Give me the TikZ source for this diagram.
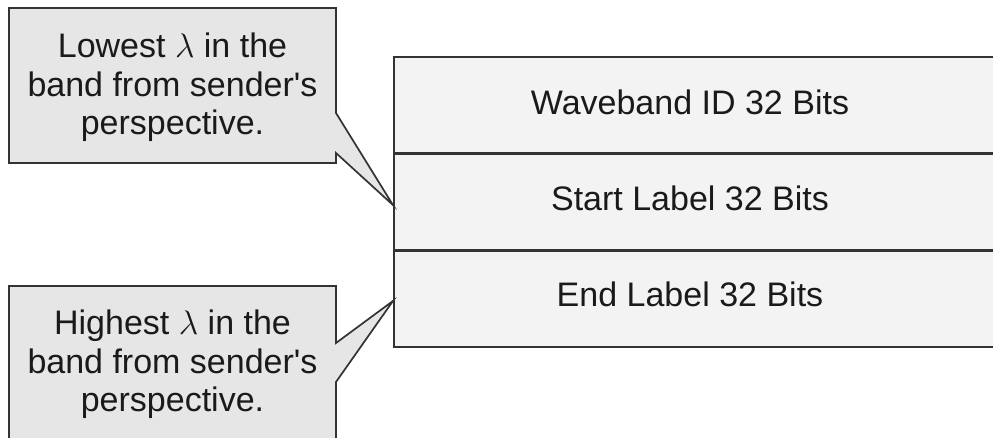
\RequirePackage{fix-cm}
\documentclass[tikz,border=0pt]{standalone}
\usepackage{fontspec}
\setmainfont{Liberation Sans}
\definecolor{calloutgray}{HTML}{E6E6E6}
\definecolor{tablegray}{HTML}{F3F3F3}
\definecolor{linegray}{HTML}{333333}
\definecolor{textgray}{HTML}{1A1A1A}
\begin{document}
\begin{tikzpicture}[x=1pt,y=-1pt,
  rowbox/.style={draw=linegray,fill=tablegray,line width=1.7pt,minimum width=610pt,minimum height=95.67pt,inner sep=0pt,anchor=north west},
  rowtext/.style={font=\fontsize{34}{38.5}\selectfont,text=textgray,anchor=base,inner sep=0pt},
  callout/.style={draw=linegray,fill=calloutgray,line width=1.7pt,line join=miter},
  callouttext/.style={font=\fontsize{34}{38.5}\selectfont,text=textgray,align=center,inner sep=0pt}]
\useasboundingbox (0,0) rectangle (993,437);
\clip (0,0) rectangle (993,437);
% table rows
\node[rowbox] (r1) at (393,56) {};
\node[rowbox] (r2) at (r1.south west) {};
\node[rowbox] (r3) at (r2.south west) {};
\node[rowtext] (t1) at (690,114) {Waveband ID 32 Bits};
\node[rowtext] (t2) at (690,210) {Start Label 32 Bits};
\node[rowtext] (t3) at (690,306.5) {End Label 32 Bits};
% pointer tips on the table
\coordinate (tip1) at ([yshift=-3pt]r2.west);
\coordinate (tip2) at ([yshift=-1.5pt]r3.west);
% callout 1
\draw[callout] (9,8) -- (336,8) -- (336,113) -- (tip1) -- (336,153) -- (336,163) -- (9,163) -- cycle;
\node[callouttext] (c1) at (172.5,87.7) {Lowest $\lambda$ in the\\band from sender\textquotesingle s\\perspective.};
% callout 2
\draw[callout] (9,286) -- (336,286) -- (336,343) -- (tip2) -- (336,382) -- (336,445) -- (9,445) -- cycle;
\node[callouttext] (c2) at (172.5,364.7) {Highest $\lambda$ in the\\band from sender\textquotesingle s\\perspective.};
\end{tikzpicture}
\end{document}
